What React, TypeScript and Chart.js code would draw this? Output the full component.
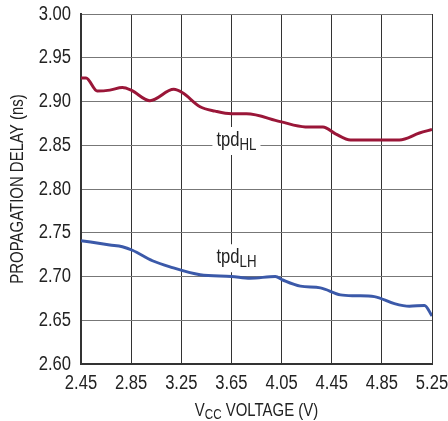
import React, { useEffect, useRef } from "react";
import { Chart, registerables } from "chart.js";

Chart.register(...registerables);

const xTicks = [2.45, 2.85, 3.25, 3.65, 4.05, 4.45, 4.85, 5.25];
const yTicks = [2.6, 2.65, 2.7, 2.75, 2.8, 2.85, 2.9, 2.95, 3.0];

const hlVolts = [2.45, 2.49, 2.58, 2.68, 2.78, 2.85, 3.0, 3.19, 3.26, 3.4, 3.52, 3.65, 3.77, 4.04, 4.24, 4.38, 4.48, 4.6, 4.83, 4.99, 5.15, 5.25];
const hlDelay = [2.927, 2.927, 2.912, 2.913, 2.916, 2.913, 2.901, 2.914, 2.91, 2.894, 2.889, 2.886, 2.886, 2.877, 2.871, 2.871, 2.863, 2.856, 2.856, 2.856, 2.864, 2.868];

const lhVolts = [2.45, 2.68, 2.78, 2.86, 3.02, 3.16, 3.4, 3.65, 3.8, 4.0, 4.06, 4.2, 4.36, 4.52, 4.64, 4.79, 4.95, 5.07, 5.19, 5.25];
const lhDelay = [2.741, 2.736, 2.734, 2.73, 2.718, 2.711, 2.702, 2.7, 2.698, 2.7, 2.696, 2.689, 2.687, 2.679, 2.678, 2.677, 2.669, 2.666, 2.667, 2.655];

const FONT = "'Liberation Sans', Arial, sans-serif";
const SX = 0.83; // horizontal squeeze to mimic a condensed face
const TEXT = "#222";
const RED = "#9a1638";
const BLUE = "#3b59a9";

function textWidth(ctx: CanvasRenderingContext2D, t: string, size: number) {
  ctx.save();
  ctx.font = `${size}px ${FONT}`;
  const w = ctx.measureText(t).width * SX;
  ctx.restore();
  return w;
}

function drawText(
  ctx: CanvasRenderingContext2D,
  t: string,
  x: number,
  y: number,
  size: number,
  align: CanvasTextAlign,
  baseline: CanvasTextBaseline,
  rot = 0
) {
  ctx.save();
  ctx.font = `${size}px ${FONT}`;
  ctx.fillStyle = TEXT;
  ctx.textAlign = align;
  ctx.textBaseline = baseline;
  ctx.translate(x, y);
  if (rot) ctx.rotate(rot);
  ctx.scale(SX, 1);
  ctx.fillText(t, 0, 0);
  ctx.restore();
}

const textPlugin = {
  id: "textPlugin",
  afterDraw(chart: any) {
    const ctx = chart.ctx as CanvasRenderingContext2D;
    const xs = chart.scales.x;
    const ys = chart.scales.y;
    const area = chart.chartArea;

    // tick labels
    xTicks.forEach((v) => {
      drawText(ctx, v.toFixed(2), xs.getPixelForValue(v), area.bottom + 19, 20, "center", "middle");
    });
    yTicks.forEach((v) => {
      drawText(ctx, v.toFixed(2), area.left - 10, ys.getPixelForValue(v), 20, "right", "middle");
    });

    // y title
    drawText(ctx, "PROPAGATION DELAY (ns)", 18, (area.top + area.bottom) / 2, 18, "center", "middle", -Math.PI / 2);

    // x title with subscript
    const parts: [string, number, number][] = [
      ["V", 18, 0],
      ["CC", 14, 3],
      [" VOLTAGE (V)", 18, 0],
    ];
    const widths = parts.map(([t, s]) => textWidth(ctx, t, s));
    const total = widths.reduce((a, b) => a + b, 0);
    let x = (area.left + area.right) / 2 - total / 2;
    parts.forEach(([t, s, dy], i) => {
      drawText(ctx, t, x, area.bottom + 52 + dy, s, "left", "alphabetic");
      x += widths[i];
    });

    // curve labels with subscripts and white backing
    const label = (main: string, sub: string, cx: number, cy: number) => {
      const w1 = textWidth(ctx, main, 20);
      const w2 = textWidth(ctx, sub, 16);
      const tot = w1 + w2;
      const x0 = cx - tot / 2;
      ctx.save();
      ctx.fillStyle = "#ffffff";
      ctx.fillRect(x0 - 4, cy - 13, tot + 8, 28);
      ctx.restore();
      drawText(ctx, main, x0, cy + 6, 20, "left", "alphabetic");
      drawText(ctx, sub, x0 + w1, cy + 10, 16, "left", "alphabetic");
    };
    label("tpd", "HL", xs.getPixelForValue(3.69), ys.getPixelForValue(2.856));
    label("tpd", "LH", xs.getPixelForValue(3.69), ys.getPixelForValue(2.722));
  },
};

export default function App() {
  const ref = useRef<HTMLCanvasElement>(null);

  useEffect(() => {
    if (!ref.current) return;
    const chart = new Chart(ref.current, {
      type: "line",
      data: {
        datasets: [
          {
            label: "tpdHL",
            data: hlVolts.map((v, i) => ({ x: v, y: hlDelay[i] })),
            borderColor: RED,
            borderWidth: 3,
            pointRadius: 0,
            cubicInterpolationMode: "monotone",
            fill: false,
          },
          {
            label: "tpdLH",
            data: lhVolts.map((v, i) => ({ x: v, y: lhDelay[i] })),
            borderColor: BLUE,
            borderWidth: 3,
            pointRadius: 0,
            cubicInterpolationMode: "monotone",
            fill: false,
          },
        ],
      },
      options: {
        animation: false,
        responsive: true,
        maintainAspectRatio: false,
        layout: { padding: { left: 0, right: 16, top: 14, bottom: 0 } },
        plugins: {
          legend: { display: false },
          tooltip: { enabled: false },
        },
        scales: {
          x: {
            type: "linear",
            min: 2.45,
            max: 5.25,
            afterBuildTicks: (s: any) => {
              s.ticks = xTicks.map((v) => ({ value: v }));
            },
            afterFit: (s: any) => {
              s.height = 57;
              s.paddingLeft = 0;
              s.paddingRight = 0;
            },
            ticks: { display: false },
            grid: { color: "#333", lineWidth: 1, drawTicks: false },
            border: { color: "#333", width: 2 },
          },
          y: {
            type: "linear",
            min: 2.6,
            max: 3.0,
            afterBuildTicks: (s: any) => {
              s.ticks = yTicks.map((v) => ({ value: v }));
            },
            afterFit: (s: any) => {
              s.width = 81;
              s.paddingTop = 0;
              s.paddingBottom = 0;
            },
            ticks: { display: false },
            grid: { color: "#777", lineWidth: 1, drawTicks: false },
            border: { color: "#333", width: 2 },
          },
        },
      },
      plugins: [textPlugin],
    });
    return () => chart.destroy();
  }, []);

  return (
    <div style={{ position: "absolute", left: 0, top: 0, width: 448, height: 421, background: "#fff" }}>
      <canvas ref={ref} />
    </div>
  );
}
